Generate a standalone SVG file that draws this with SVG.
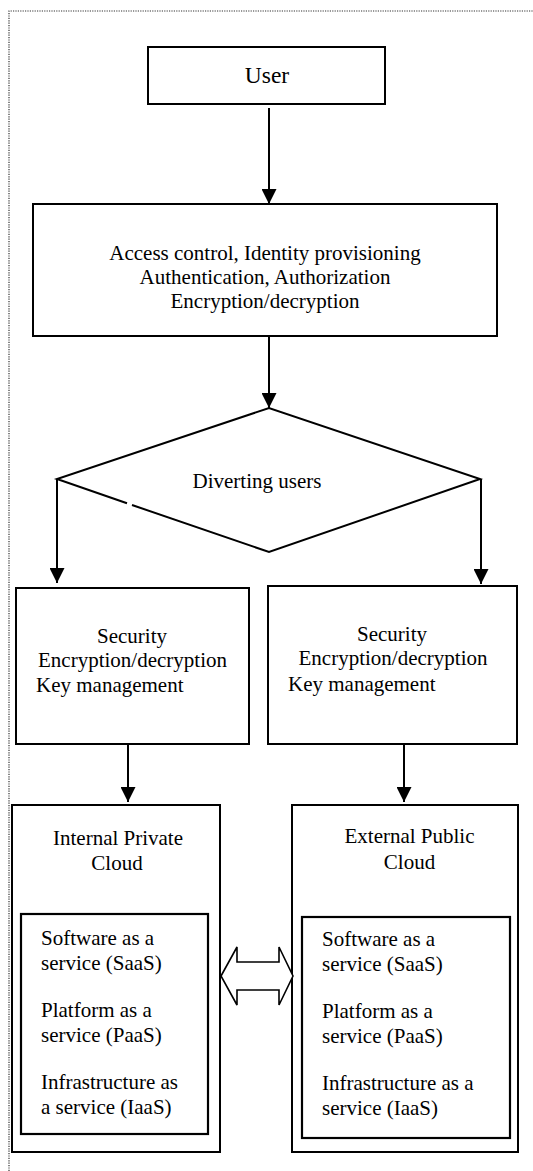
<svg xmlns="http://www.w3.org/2000/svg" width="533" height="1171" viewBox="0 0 533 1171">
  <defs>
    <marker id="head" viewBox="0 0 15 15" refX="15" refY="7.5" markerWidth="15" markerHeight="15" markerUnits="userSpaceOnUse" orient="auto">
      <path d="M0,0 L15,7.5 L0,15 z" fill="#000"/>
    </marker>
    <style>
      .box { fill: #fff; stroke: #000; stroke-width: 2; }
      .inner { fill: #fff; stroke: #000; stroke-width: 2.2; }
      .edge { fill: none; stroke: #000; stroke-width: 2; }
      .arrow { fill: none; stroke: #000; stroke-width: 2; marker-end: url(#head); }
      .frame { fill: none; stroke: #333; stroke-width: 1.2; stroke-dasharray: 1.2 1.2; }
      .c { text-anchor: middle; }
    </style>
  </defs>

  <rect width="533" height="1171" fill="#fff"/>

  <!-- dotted page frame (top and left edges) -->
  <path class="frame" d="M9,1171 L9,11 L533,11"/>

  <g font-family="Liberation Serif, DejaVu Serif, serif" font-size="21" fill="#000">
    <g id="user">
      <rect class="box" x="148" y="47" width="237" height="57"/>
      <text class="c" x="267" y="83" font-size="23.5">User</text>
    </g>

    <g id="access-control">
      <rect class="box" x="33" y="204" width="464" height="132"/>
      <text class="c" x="265" y="260">Access control, Identity provisioning</text>
      <text class="c" x="265" y="284">Authentication, Authorization</text>
      <text class="c" x="265" y="308">Encryption/decryption</text>
    </g>

    <g id="diverting-users">
      <path class="edge" d="M127,503.3 L57,479 L269,408 L480,479 L269,552 L132,505"/>
      <text class="c" x="257" y="488">Diverting users</text>
    </g>

    <g id="security-private">
      <rect class="box" x="16" y="588" width="233" height="156"/>
      <text class="c" x="132" y="643">Security</text>
      <text class="c" x="132.5" y="667">Encryption/decryption</text>
      <text x="36" y="692">Key management</text>
    </g>

    <g id="security-public">
      <rect class="box" x="268" y="586" width="249" height="158"/>
      <text class="c" x="392" y="641">Security</text>
      <text class="c" x="393" y="665">Encryption/decryption</text>
      <text x="288" y="691">Key management</text>
    </g>

    <g id="private-cloud">
      <rect class="box" x="12" y="805" width="208" height="347"/>
      <text class="c" x="118" y="845">Internal Private</text>
      <text class="c" x="117" y="870">Cloud</text>
      <rect class="inner" x="21" y="914" width="187" height="220"/>
      <text x="41" y="945">Software as a</text>
      <text x="41" y="970">service (SaaS)</text>
      <text x="41" y="1017">Platform as a</text>
      <text x="41" y="1042">service (PaaS)</text>
      <text x="41" y="1089">Infrastructure as</text>
      <text x="41" y="1114">a service (IaaS)</text>
    </g>

    <g id="public-cloud">
      <rect class="box" x="292" y="805" width="226" height="347"/>
      <text class="c" x="409.5" y="843">External Public</text>
      <text class="c" x="409.5" y="869">Cloud</text>
      <rect class="inner" x="302" y="917" width="208" height="221"/>
      <text x="322" y="946">Software as a</text>
      <text x="322" y="971">service (SaaS)</text>
      <text x="322" y="1018">Platform as a</text>
      <text x="322" y="1043">service (PaaS)</text>
      <text x="322" y="1090">Infrastructure as a</text>
      <text x="322" y="1115">service (IaaS)</text>
    </g>
  </g>

  <g id="connectors">
    <line class="arrow" x1="269" y1="108" x2="269" y2="204"/>
    <line class="arrow" x1="269" y1="336" x2="269" y2="408"/>
    <line class="arrow" x1="57" y1="479" x2="57" y2="583"/>
    <line class="arrow" x1="481" y1="479" x2="481" y2="584"/>
    <line class="arrow" x1="128" y1="744" x2="128" y2="802"/>
    <line class="arrow" x1="404" y1="744" x2="404" y2="802"/>
    <!-- two-way block arrow between the clouds -->
    <polygon fill="#fff" stroke="#000" stroke-width="1.6" stroke-linejoin="miter"
      points="221,976 237,947 237,962 279,962 279,947 293,976 279,1005 279,990 237,990 237,1005"/>
  </g>
</svg>
